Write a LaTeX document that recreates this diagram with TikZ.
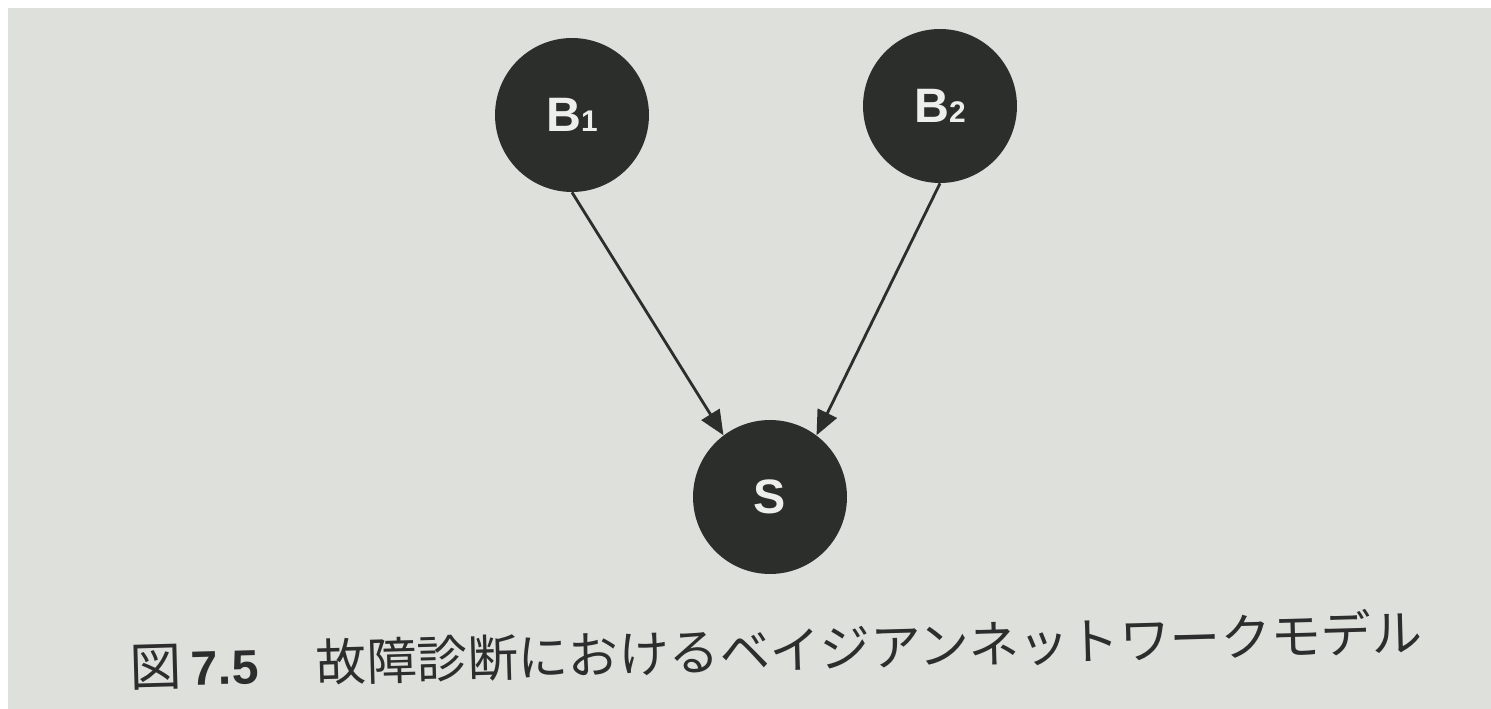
\documentclass[tikz,border=0pt]{standalone}
\usepackage{fontspec}
\setsansfont{Liberation Sans}
\newfontfamily\jpfont{Noto Sans CJK JP}
\usetikzlibrary{arrows.meta}
\definecolor{paper}{RGB}{222,224,219}
\definecolor{ink}{RGB}{44,46,44}
\definecolor{lbl}{RGB}{238,238,234}
\definecolor{captink}{RGB}{45,45,45}
\begin{document}
\begin{tikzpicture}[x=0.02cm,y=-0.02cm,
  bnode/.style={circle,fill=ink,minimum size=3.08cm,inner sep=0pt,text=lbl,
    font=\sffamily\bfseries\fontsize{27.5}{28}\selectfont},
  edge/.style={draw=ink,line width=1.6pt,-{Triangle[length=14pt,width=12pt]}},
  caption/.style={anchor=base west,inner sep=0pt,text=captink,rotate=1.6}]
\useasboundingbox (0,0) rectangle (1491,709);
\fill[white] (0,0) rectangle (1491,709);
\fill[paper] (8,8) rectangle (1491,709);
\node[bnode] (B1) at (572,115) {B{\fontsize{17}{17}\selectfont 1}};
\node[bnode] (B2) at (940,106) {B{\fontsize{17}{17}\selectfont 2}};
\node[bnode] (S) at (770,497) {S};
\draw[edge] (B1.south) -- (S.127);
\draw[edge] (B2.south) -- (S.53);
\node[caption] (cap) at (130,687) {{\jpfont\fontsize{29.5}{30}\selectfont 図}\hspace{5.5pt}{\sffamily\bfseries\fontsize{27.5}{28}\selectfont 7.5}\hspace{33pt}{\jpfont\fontsize{28.7}{30}\selectfont 故障診断におけるベイジアンネットワークモデル}};
\end{tikzpicture}
\end{document}
